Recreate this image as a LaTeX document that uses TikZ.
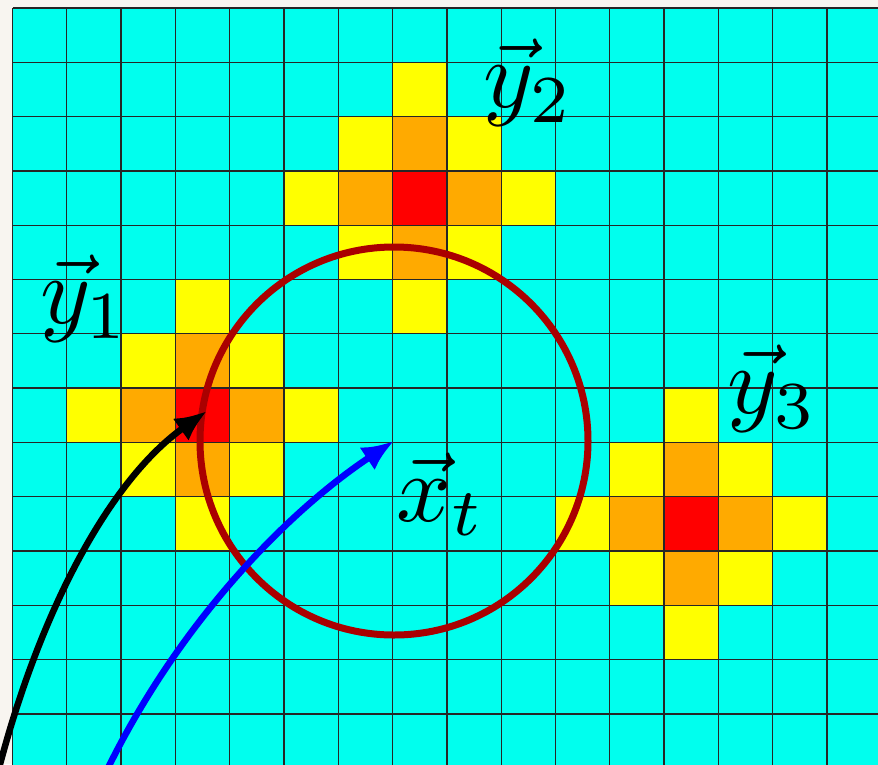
\documentclass[tikz,border=0pt]{standalone}
\usetikzlibrary{arrows.meta}
\definecolor{bgc}{RGB}{248,245,240}
\definecolor{cellc}{RGB}{0,255,238}
\definecolor{cl0}{RGB}{255,0,0}
\definecolor{cl1}{RGB}{255,170,0}
\definecolor{cl2}{RGB}{255,255,0}
\definecolor{circc}{RGB}{170,0,0}
\tikzset{
  gridline/.style={line width=1.3pt, draw=black!85},
  lbl/.style={inner sep=0pt, scale=9.6},
  curvearrow/.style={line width=6.5pt, -{Latex[length=32pt,width=27pt]}},
}
\begin{document}
\begin{tikzpicture}[x=1pt,y=-1pt]
\useasboundingbox (0,0) rectangle (878,764);
\fill[bgc] (0,0) rectangle (878,764);
\begin{scope}
\clip (0,0) rectangle (878,764);
\fill[cellc] (12.5,8) rectangle (890,780);
\foreach \cx/\cy in {7/3,3/7,12/9} {
  \foreach \dx in {-2,...,2} {
    \foreach \dy in {-2,...,2} {
      \pgfmathtruncatemacro\dd{abs(\dx)+abs(\dy)}
      \ifnum\dd<3
        \fill[cl\dd] ({12.5+54.3*(\cx+\dx)},{8+54.3*(\cy+\dy)}) rectangle ++(54.3,54.3);
      \fi
    }
  }
}
\foreach \i in {0,...,16} \draw[gridline] ({12.5+54.3*\i},8) -- ({12.5+54.3*\i},780);
\foreach \j in {0,...,14} \draw[gridline] (12.5,{8+54.3*\j}) -- (890,{8+54.3*\j});
\end{scope}
\coordinate (xt) at (394,441);
\coordinate (y1c) at (207,411);
\coordinate (s1) at (-2,772);
\coordinate (s2) at (106,772);
\draw[circc, line width=7pt] (xt) circle[radius=194];
\begin{scope}
\clip (0,0) rectangle (878,764);
\draw[curvearrow, black] (s1) .. controls (40,610) and (110,480) .. (y1c);
\draw[curvearrow, blue] (s2) .. controls (180,620) and (290,510) .. (xt);
\end{scope}
\node[lbl] (l1) at (85,299) {$\vec y_1$};
\node[lbl] (l2) at (528,83) {$\vec y_2$};
\node[lbl] (l3) at (772,389) {$\vec y_3$};
\node[lbl] (lx) at (441,494) {$\vec x_t$};
\end{tikzpicture}
\end{document}
